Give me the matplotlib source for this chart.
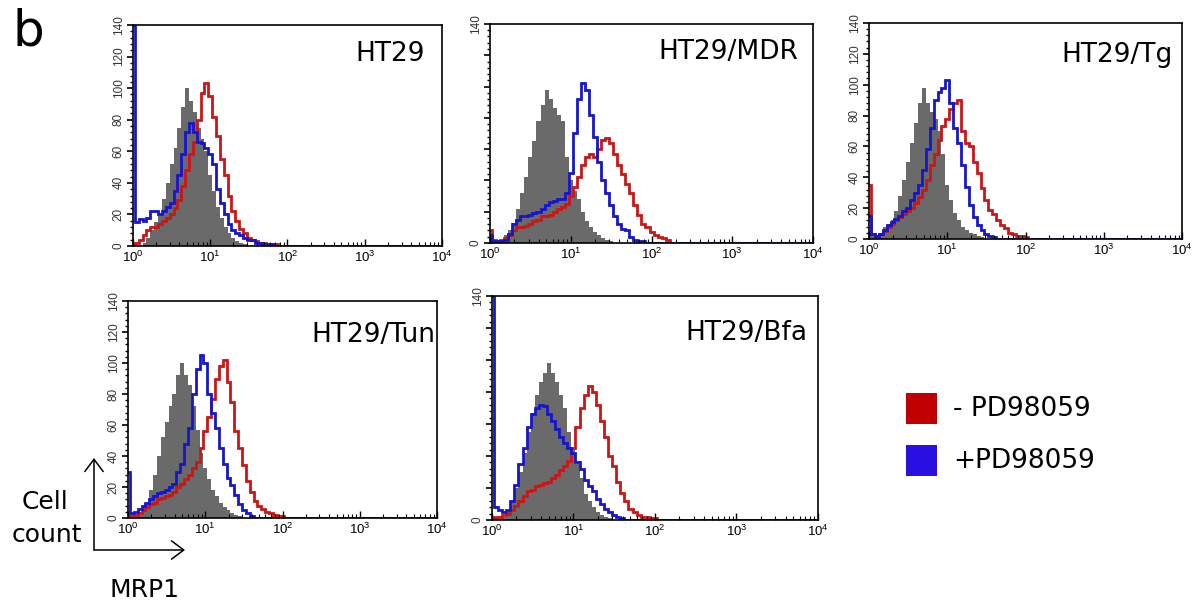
import numpy as np
import matplotlib
matplotlib.use("Agg")
import matplotlib.pyplot as plt
from matplotlib.patches import Rectangle, FancyArrowPatch
from matplotlib.ticker import FixedLocator, MultipleLocator, NullFormatter

plt.rcParams['font.family'] = ['DejaVu Sans']

# log10 channel positions (MRP1 intensity), 0.05 decade bins from 10^0 to 10^2.2
log_mfi = np.round(np.arange(0, 2.2001, 0.05), 3)

panels = ['HT29', 'HT29/MDR', 'HT29/Tg', 'HT29/Tun', 'HT29/Bfa']

# isotype control (grey fill), counts per bin
control = {
    'HT29':     [0, 0, 0, 2, 5, 10, 15, 20, 30, 40, 52, 62, 75, 88, 100, 92, 85, 75, 68, 60,
                 45, 35, 25, 18, 12, 8, 5, 3, 2, 1, 0, 0, 0, 0, 0, 0, 0, 0, 0, 0, 0, 0, 0, 0, 0],
    'HT29/MDR': [3, 1, 1, 2, 5, 8, 13, 22, 32, 42, 55, 65, 78, 88, 98, 92, 86, 82, 78, 55,
                 40, 33, 28, 20, 14, 10, 7, 5, 3, 2, 1, 0, 0, 0, 0, 0, 0, 0, 0, 0, 0, 0, 0, 0, 0],
    'HT29/Tg':  [5, 2, 2, 4, 8, 10, 12, 18, 28, 38, 50, 62, 75, 88, 98, 88, 82, 78, 70, 55,
                 35, 25, 17, 12, 8, 6, 4, 3, 2, 1, 0, 0, 0, 0, 0, 0, 0, 0, 0, 0, 0, 0, 0, 0, 0],
    'HT29/Tun': [2, 1, 1, 2, 5, 10, 18, 28, 40, 52, 62, 72, 80, 92, 100, 92, 86, 72, 57, 42,
                 32, 25, 18, 14, 10, 7, 5, 3, 2, 1, 0, 0, 0, 0, 0, 0, 0, 0, 0, 0, 0, 0, 0, 0, 0],
    'HT29/Bfa': [2, 1, 1, 2, 5, 12, 20, 30, 42, 55, 67, 78, 86, 92, 98, 92, 86, 78, 70, 55,
                 44, 35, 26, 16, 12, 8, 5, 3, 2, 1, 0, 0, 0, 0, 0, 0, 0, 0, 0, 0, 0, 0, 0, 0, 0],
}

# - PD98059 (red)
minus_pd = {
    'HT29':     [1, 2, 4, 7, 10, 12, 12, 14, 16, 18, 20, 24, 29, 38, 48, 58, 66, 80, 97, 103,
                 95, 82, 70, 55, 45, 32, 22, 16, 11, 8, 5, 4, 3, 2, 2, 1, 1, 1, 0, 0, 0, 0, 0, 0, 0],
    'HT29/MDR': [8, 2, 1, 2, 3, 5, 8, 10, 10, 11, 12, 14, 15, 17, 17, 18, 20, 22, 23, 25,
                 30, 36, 42, 50, 55, 57, 55, 60, 66, 67, 64, 57, 50, 44, 38, 32, 24, 18, 12, 10, 7, 5, 4, 3, 2],
    'HT29/Tg':  [35, 3, 2, 3, 5, 8, 10, 12, 14, 16, 18, 20, 23, 27, 32, 38, 48, 55, 64, 73,
                 78, 84, 88, 90, 70, 62, 60, 50, 43, 33, 25, 19, 16, 12, 9, 7, 4, 3, 2, 2, 1, 0, 0, 0, 0],
    'HT29/Tun': [2, 1, 2, 3, 5, 7, 9, 10, 12, 13, 14, 15, 17, 20, 22, 25, 28, 32, 36, 45,
                 56, 65, 77, 90, 98, 102, 88, 75, 56, 45, 34, 24, 17, 11, 8, 6, 4, 3, 2, 1, 1, 0, 0, 0, 0],
    'HT29/Bfa': [2, 2, 2, 3, 4, 6, 9, 12, 15, 18, 19, 21, 22, 23, 24, 26, 28, 31, 34, 37,
                 45, 58, 70, 78, 84, 80, 72, 62, 52, 40, 34, 24, 17, 12, 7, 5, 3, 2, 2, 1, 1, 0, 0, 0, 0],
}

# + PD98059 (blue)
plus_pd = {
    'HT29':     [140, 15, 17, 16, 18, 22, 22, 20, 22, 25, 27, 35, 45, 58, 72, 78, 72, 66, 65, 62,
                 58, 52, 36, 27, 20, 14, 10, 8, 7, 5, 4, 4, 2, 2, 1, 1, 1, 0, 0, 0, 0, 0, 0, 0, 0],
    'HT29/MDR': [5, 1, 1, 1, 2, 6, 12, 15, 17, 17, 18, 19, 20, 22, 24, 26, 27, 28, 28, 32,
                 45, 70, 92, 102, 98, 82, 68, 52, 40, 32, 24, 17, 12, 9, 8, 4, 2, 1, 1, 0, 0, 0, 0, 0, 0],
    'HT29/Tg':  [15, 3, 2, 3, 6, 9, 11, 13, 15, 18, 20, 25, 30, 35, 45, 58, 72, 90, 95, 98,
                 103, 88, 72, 62, 48, 34, 22, 14, 9, 6, 3, 2, 1, 0, 0, 0, 0, 0, 0, 0, 0, 0, 0, 0, 0],
    'HT29/Tun': [30, 3, 4, 6, 8, 10, 12, 14, 16, 17, 18, 20, 22, 30, 35, 48, 58, 80, 96, 105,
                 100, 80, 68, 58, 45, 35, 26, 21, 15, 9, 5, 3, 1, 0, 0, 0, 0, 0, 0, 0, 0, 0, 0, 0, 0],
    'HT29/Bfa': [140, 8, 6, 5, 6, 12, 22, 35, 45, 58, 66, 70, 72, 71, 66, 62, 57, 52, 48, 45,
                 42, 36, 32, 25, 21, 18, 13, 10, 7, 5, 3, 2, 1, 0, 0, 0, 0, 0, 0, 0, 0, 0, 0, 0, 0],
}

sparse_y = ['HT29/MDR', 'HT29/Bfa']

# axes rectangles in figure fractions
boxes = {
    'HT29':     [0.1109, 0.5947, 0.2577, 0.3641],
    'HT29/MDR': [0.4087, 0.5997, 0.2694, 0.3608],
    'HT29/Tg':  [0.7248, 0.6063, 0.2611, 0.3559],
    'HT29/Tun': [0.1068, 0.1466, 0.2577, 0.3575],
    'HT29/Bfa': [0.4103, 0.1433, 0.2719, 0.3690],
}
label_pos = {
    'HT29': (0.945, 0.87), 'HT29/MDR': (0.954, 0.872), 'HT29/Tg': (0.971, 0.852),
    'HT29/Tun': (0.994, 0.843), 'HT29/Bfa': (0.969, 0.835),
}

gray = '#6a6a6a'
red = '#cc1616'
blue = '#1616cc'

edges = np.append(10 ** (log_mfi - 0.025), [10 ** (log_mfi[-1] + 0.025), 1e4])

fig = plt.figure(figsize=(11.99, 6.07), dpi=100)

for name in panels:
    ax = fig.add_axes(boxes[name])
    ax.set_xscale('log')
    ax.stairs(np.append(control[name], 0), edges, fill=True, color=gray, lw=0)
    ax.stairs(np.append(minus_pd[name], 0), edges, baseline=None, color=red, lw=2)
    ax.stairs(np.append(plus_pd[name], 0), edges, baseline=None, color=blue, lw=2)
    ax.set_xlim(1, 1e4)
    ax.set_ylim(0, 140)

    ax.xaxis.set_major_locator(FixedLocator([1, 10, 100, 1000, 10000]))
    ax.set_xticklabels([r'$\mathregular{10^{%d}}$' % k for k in range(5)],
                       fontsize=9.5, family='Liberation Sans')
    ax.xaxis.set_minor_locator(FixedLocator([m * 10 ** k for k in range(4) for m in range(2, 10)]))
    ax.xaxis.set_minor_formatter(NullFormatter())
    ax.tick_params(axis='x', which='major', direction='in', length=5, width=1, pad=3)
    ax.tick_params(axis='x', which='minor', direction='in', length=3, width=0.8)

    ax.yaxis.set_major_locator(MultipleLocator(20))
    ax.yaxis.set_minor_locator(MultipleLocator(4))
    if name in sparse_y:
        ax.set_yticklabels(['0' if t == 0 else ('140' if t == 140 else '')
                            for t in ax.get_yticks()])
    for lab in ax.get_yticklabels():
        lab.set_rotation(90)
        lab.set_va('center')
        lab.set_fontsize(8.5)
        lab.set_color('#333333')
        lab.set_family('Liberation Sans')
    ax.tick_params(axis='y', which='major', direction='out', length=4, width=1.2, pad=2)
    ax.tick_params(axis='y', which='minor', direction='out', length=2.5, width=1)
    ax.tick_params(top=False, right=False)
    for sp in ax.spines.values():
        sp.set_linewidth(1.2)

    ax.text(*label_pos[name], name, transform=ax.transAxes, ha='right', va='center',
            fontsize=19)

fig.text(0.024, 1 - 32 / 607, 'b', fontsize=36, ha='center', va='center')

# axis key arrows
x0, y0 = 94 / 1199, 1 - 550 / 607
for end in [(x0, 1 - 458 / 607), (185 / 1199, y0)]:
    fig.add_artist(FancyArrowPatch((x0, y0), end, transform=fig.transFigure,
                                   arrowstyle='->,head_length=0.4,head_width=0.3',
                                   mutation_scale=22, lw=1.1, color='black',
                                   shrinkA=0, shrinkB=0))
fig.text(45 / 1199, 1 - 502 / 607, 'Cell', fontsize=18, ha='center', va='center')
fig.text(47 / 1199, 1 - 535 / 607, 'count', fontsize=18, ha='center', va='center')
fig.text(145 / 1199, 1 - 590 / 607, 'MRP1', fontsize=18, ha='center', va='center')

# legend
legend_items = [('- PD98059', '#c00000'), ('+PD98059', '#2a10e0')]
legend_y = [1 - 424 / 607, 1 - 476 / 607]
for (txt, col), yb in zip(legend_items, legend_y):
    fig.add_artist(Rectangle((906 / 1199, yb), 31 / 1199, 31 / 607, transform=fig.transFigure,
                             facecolor=col, edgecolor='none'))
    fig.text(953 / 1199, yb + 0.5 * 31 / 607, txt, fontsize=19, ha='left', va='center')

fig.savefig('out.png', dpi=100, facecolor='white')
